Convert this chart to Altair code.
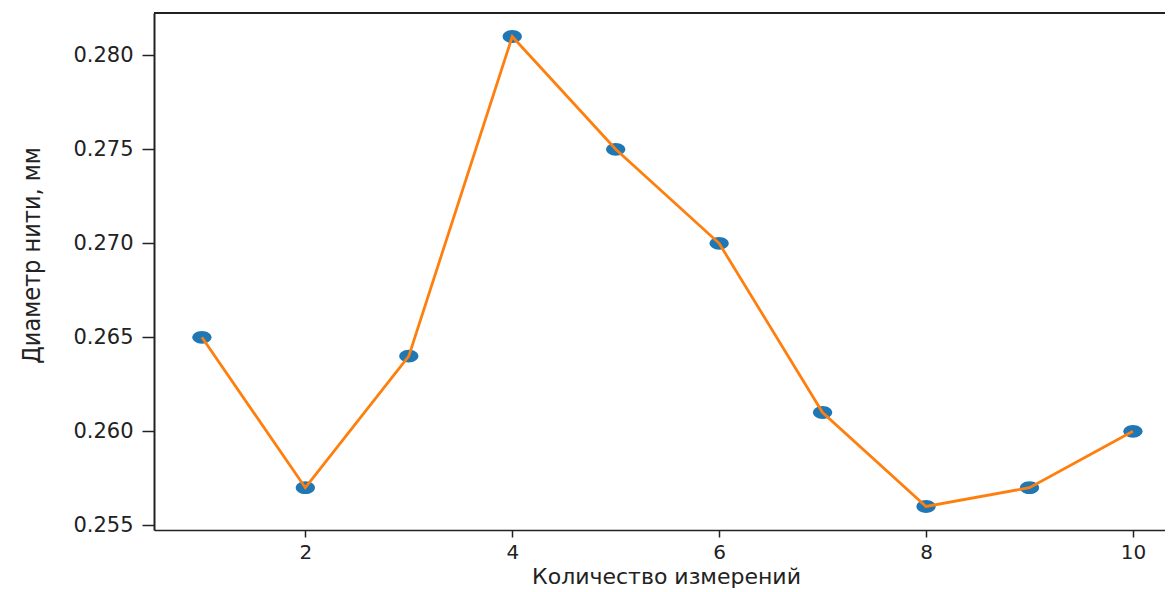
import altair as alt
import pandas as pd

measurements = [1, 2, 3, 4, 5, 6, 7, 8, 9, 10]
diameters = [0.265, 0.257, 0.264, 0.281, 0.275, 0.270, 0.261, 0.256, 0.257, 0.260]
x_ticks = [2, 4, 6, 8, 10]
y_ticks = [0.255, 0.260, 0.265, 0.270, 0.275, 0.280]

df = pd.DataFrame({"n": measurements, "d": diameters})

W = 1011
H = 517

xscale = alt.Scale(domain=[0.537, 10.31], nice=False, zero=False)
yscale = alt.Scale(domain=[0.25475, 0.28225], nice=False, zero=False)

xaxis = alt.Axis(
    values=x_ticks, format="d", title="Количество измерений", grid=False,
    labelFont="DejaVu Sans", labelFontSize=20, labelColor="#222",
    titleFont="DejaVu Sans", titleFontSize=22, titleFontWeight="normal", titleColor="#222",
    tickSize=7, tickColor="#222", tickWidth=1.5, labelPadding=5, titlePadding=4,
    domainColor="#222", domainWidth=1.5, labelFlush=False,
    titleX=512,
)
yaxis = alt.Axis(
    values=y_ticks, format=".3f", title="Диаметр нити, мм", grid=False,
    labelFont="DejaVu Sans", labelFontSize=21, labelColor="#222",
    titleFont="DejaVu Sans Condensed", titleFontSize=25, titleFontWeight="normal", titleColor="#222",
    titleAngle=-90, titleX=-123, titleY=242, titleAlign="center", titleBaseline="middle",
    tickSize=12, tickColor="#222", tickWidth=1.5, labelPadding=9,
    domainColor="#222", domainWidth=2,
)

ellipse = "M-1.5,0 A1.5,1 0 1,0 1.5,0 A1.5,1 0 1,0 -1.5,0 Z"

points = alt.Chart(df).mark_point(
    shape=ellipse, filled=True, size=165, color="#1f77b4", opacity=1
).encode(
    x=alt.X("n:Q", scale=xscale, axis=xaxis),
    y=alt.Y("d:Q", scale=yscale, axis=yaxis),
)

line = alt.Chart(df).mark_line(color="#ff7f0e", strokeWidth=2.8).encode(
    x=alt.X("n:Q", scale=xscale),
    y=alt.Y("d:Q", scale=yscale),
)

top_border = alt.Chart(df).mark_rule(color="#222", strokeWidth=1.5).encode(
    x=alt.value(0), x2=alt.value(W), y=alt.value(0)
)

chart = alt.layer(points, line, top_border).properties(
    width=W, height=H,
    autosize=alt.AutoSizeParams(type="none"),
    padding={"left": 146, "top": 5, "right": 0, "bottom": 58},
).configure_view(stroke=None).configure(background="white")

chart.save("out.html", embed_options={"renderer": "svg", "actions": False})
